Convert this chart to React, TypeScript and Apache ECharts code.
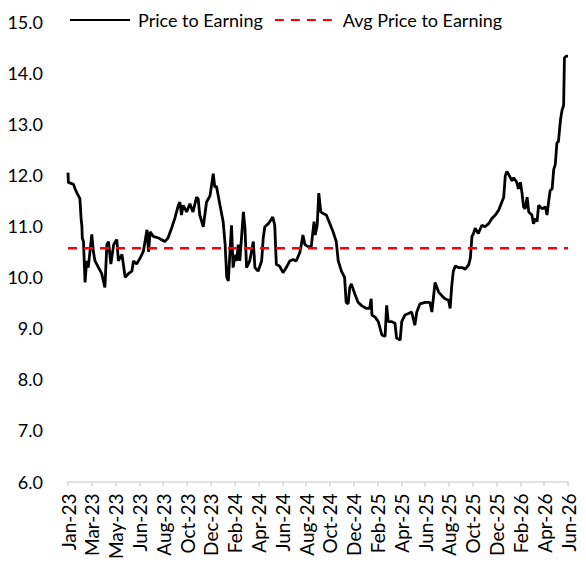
import React, { useEffect, useRef } from "react";
import * as echarts from "echarts";

// Days elapsed since 1 Jan 2023
const dayOffsets: number[] = [
  0, 1, 14, 18, 22, 26, 30, 33, 35, 36, 39, 43, 47, 51, 60, 64, 68, 77, 85, 93,
  98, 102, 108, 115, 123, 127, 136, 144, 152, 161, 165, 173, 182, 190, 199, 203, 207, 215, 228, 244,
  252, 261, 269, 278, 282, 286, 290, 299, 307, 315, 324, 328, 332, 341, 349, 358, 366, 370, 374, 383,
  391, 396, 400, 404, 412, 416, 421, 425, 429, 433, 442, 446, 450, 458, 467, 471, 479, 488, 492, 496,
  505, 516, 521, 525, 533, 542, 550, 559, 567, 575, 584, 588, 592, 597, 605, 613, 620, 623, 628, 632,
  637, 643, 651, 660, 668, 676, 681, 689, 697, 701, 706, 710, 714, 723, 731, 739, 752, 760, 764, 766,
  774, 782, 791, 799, 803, 807, 816, 824, 828, 837, 841, 849, 858, 866, 874, 879, 887, 900, 912, 917,
  925, 934, 942, 950, 959, 963, 967, 971, 976, 984, 993, 1001, 1010, 1014, 1018, 1022, 1026, 1034, 1043, 1051,
  1060, 1068, 1077, 1085, 1093, 1098, 1102, 1106, 1110, 1119, 1123, 1131, 1135, 1140, 1144, 1148, 1152, 1157, 1161, 1169,
  1173, 1178, 1182, 1186, 1195, 1203, 1207, 1211, 1215, 1220, 1224, 1228, 1232, 1236, 1241, 1245, 1249, 1251, 1256, 1260,
];

const peValues: number[] = [
  12.05, 11.86, 11.82, 11.73, 11.66, 11.6, 11.54, 11.15, 11.0, 10.77, 10.7, 9.9, 10.32, 10.19, 10.84, 10.5, 10.32, 10.19, 10.07, 9.8,
  10.64, 10.7, 10.26, 10.64, 10.74, 10.32, 10.45, 10.0, 10.07, 10.12, 10.32, 10.26, 10.38, 10.51, 10.93, 10.5, 10.89, 10.8, 10.77, 10.7,
  10.77, 10.96, 11.15, 11.41, 11.47, 11.22, 11.41, 11.28, 11.44, 11.28, 11.57, 11.54, 11.22, 10.99, 11.47, 11.6, 12.03, 11.76, 11.79, 11.41,
  11.09, 10.64, 10.0, 9.93, 11.02, 10.19, 10.44, 10.32, 10.64, 10.32, 11.28, 10.96, 10.19, 10.32, 10.7, 10.19, 10.12, 10.32, 10.77, 10.99,
  11.05, 11.18, 11.02, 10.25, 10.22, 10.09, 10.19, 10.32, 10.35, 10.32, 10.48, 10.64, 10.83, 10.64, 10.6, 10.6, 11.09, 10.83, 11.02, 11.65,
  11.28, 11.25, 11.22, 11.05, 10.89, 10.7, 10.32, 10.12, 10.0, 9.51, 9.48, 9.8, 9.87, 9.67, 9.51, 9.45, 9.39, 9.39, 9.58, 9.26,
  9.22, 9.13, 8.87, 8.84, 9.45, 9.13, 9.13, 9.1, 8.81, 8.77, 9.13, 9.26, 9.29, 9.32, 9.06, 9.32, 9.48, 9.51, 9.51, 9.32,
  9.9, 9.71, 9.64, 9.58, 9.55, 9.39, 9.83, 10.12, 10.22, 10.19, 10.19, 10.16, 10.25, 10.38, 10.8, 10.86, 10.96, 10.86, 11.02, 10.99,
  11.05, 11.15, 11.22, 11.31, 11.47, 11.57, 11.99, 12.07, 12.02, 11.89, 11.95, 11.86, 11.73, 11.86, 11.66, 11.38, 11.34, 11.57, 11.28, 11.22,
  11.05, 11.15, 11.09, 11.41, 11.34, 11.38, 11.22, 11.47, 11.7, 11.73, 12.11, 12.21, 12.63, 12.66, 13.08, 13.27, 13.37, 14.3, 14.33, 14.33,
];

const AVG_PE = 10.57;
const AXIS_START_UTC = Date.UTC(2023, 0, 1);
const AXIS_END_DAY = 1260;
const TICK_DAYS = 60;
const MONTHS = ["Jan", "Feb", "Mar", "Apr", "May", "Jun", "Jul", "Aug", "Sep", "Oct", "Nov", "Dec"];
const SERIES_NAMES = ["Price to Earning", "Avg Price to Earning"];

const FONT = "Lato";

function dayLabel(v: number): string {
  const d = new Date(AXIS_START_UTC + v * 86400000);
  const yy = String(d.getUTCFullYear() % 100).padStart(2, "0");
  return `${MONTHS[d.getUTCMonth()]}-${yy}`;
}

export default function App() {
  const ref = useRef<HTMLDivElement>(null);

  useEffect(() => {
    document.body.style.margin = "0";
    if (!ref.current) return;
    const chart = echarts.init(ref.current, undefined, { renderer: "svg" });
    const peData = dayOffsets.map((d, i) => [d, peValues[i]]);
    const avgData = [
      [0, AVG_PE],
      [AXIS_END_DAY, AVG_PE],
    ];
    chart.setOption({
      animation: false,
      backgroundColor: "#ffffff",
      textStyle: { fontFamily: FONT },
      legend: {
        left: 64,
        top: 6,
        itemWidth: 60,
        itemHeight: 14,
        itemGap: 11,
        itemStyle: { opacity: 0 },
        textStyle: { fontFamily: FONT, fontSize: 18, color: "#000000", padding: [0, 0, 0, 3] },
        data: SERIES_NAMES,
      },
      grid: { left: 68, right: 18, top: 22, bottom: 73, containLabel: false },
      xAxis: {
        type: "value",
        min: 0,
        max: AXIS_END_DAY,
        interval: TICK_DAYS,
        axisLine: { show: true, lineStyle: { color: "#d9d9d9", width: 1.5 } },
        axisTick: { show: true, length: 5, lineStyle: { color: "#d9d9d9", width: 1.5 } },
        splitLine: { show: false },
        axisLabel: {
          rotate: 90,
          margin: 12,
          fontFamily: FONT,
          fontSize: 19,
          color: "#000000",
          formatter: (v: number) => dayLabel(v),
          showMinLabel: true,
          showMaxLabel: true,
        },
      },
      yAxis: {
        type: "value",
        min: 6,
        max: 15,
        interval: 1,
        axisLine: { show: false },
        axisTick: { show: false },
        splitLine: { show: false },
        axisLabel: {
          margin: 25,
          fontFamily: FONT,
          fontSize: 18,
          color: "#000000",
          formatter: (v: number) => v.toFixed(1),
        },
      },
      series: [
        {
          name: SERIES_NAMES[0],
          type: "line",
          data: peData,
          symbol: "none",
          lineStyle: { color: "#000000", width: 2.8 },
          itemStyle: { color: "#000000" },
          z: 2,
        },
        {
          name: SERIES_NAMES[1],
          type: "line",
          data: avgData,
          symbol: "none",
          lineStyle: { color: "#ff0000", width: 2.6, type: [9, 7] },
          itemStyle: { color: "#ff0000" },
          z: 3,
        },
      ],
    });
    return () => chart.dispose();
  }, []);

  return (
    <div
      ref={ref}
      style={{ position: "absolute", left: 0, top: 0, width: 586, height: 562 }}
    />
  );
}
